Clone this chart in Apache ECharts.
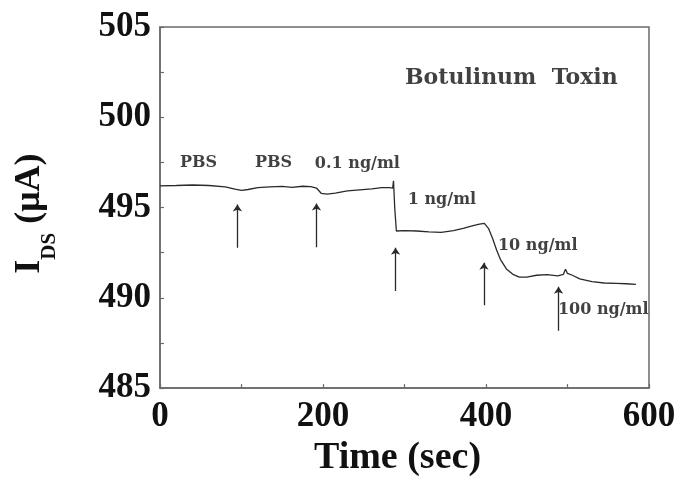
<!DOCTYPE html>
<html>
<head>
<meta charset="utf-8">
<script src="https://cdn.jsdelivr.net/npm/echarts@6/dist/echarts.min.js"></script>
<style>html,body{margin:0;padding:0;background:#fff;}#c{width:679px;height:482px;}</style>
</head>
<body>
<div id="c"></div>
<script>
var time = [0, 20, 40, 60, 80, 92, 100, 108, 120, 135, 150, 162, 175, 185, 192, 198, 205, 215, 230, 245, 260, 272, 282, 285.5, 286.5, 288, 290, 300, 315, 330, 345, 360, 372, 383, 392, 398, 403, 408, 413, 418, 425, 433, 441, 450, 462, 475, 488, 495, 497.5, 500, 506, 515, 530, 545, 560, 572, 584];
var current = [496.2, 496.22, 496.25, 496.22, 496.15, 496.02, 495.95, 496.0, 496.1, 496.15, 496.17, 496.12, 496.18, 496.16, 496.08, 495.78, 495.74, 495.8, 495.92, 495.98, 496.04, 496.1, 496.1, 496.08, 496.48, 495.0, 493.7, 493.72, 493.7, 493.65, 493.63, 493.72, 493.85, 493.98, 494.08, 494.12, 493.85, 493.3, 492.65, 492.1, 491.6, 491.3, 491.15, 491.15, 491.25, 491.28, 491.22, 491.3, 491.58, 491.35, 491.25, 491.05, 490.9, 490.82, 490.8, 490.78, 490.75];

var arrowTime = [95, 192, 289, 397.5, 489];
var arrowTail = [492.77, 492.8, 490.38, 489.59, 488.17];
var arrowTip = [495.17, 495.22, 492.77, 491.94, 490.62];

var annoTime = [24.5, 116.5, 190, 304, 414.7, 488.3];
var annoValue = [497.49, 497.49, 497.4, 495.4, 492.86, 489.36];
var annoText = ['PBS', 'PBS', '0.1 ng/ml', '1 ng/ml', '10 ng/ml', '100 ng/ml'];

var titleText = 'Botulinum  Toxin';
var titleTime = 300.6, titleValue = 502.15;

var xTicks = [0, 600, 200];
var yTicks = [485, 505, 5];

var chart = echarts.init(document.getElementById('c'), null, {renderer: 'canvas'});
var serif = '"Liberation Serif", "Times New Roman", serif';
var slab = '"DejaVu Serif", serif';

var trace = time.map(function (t, i) { return [t, current[i]]; });
var arrows = arrowTime.map(function (t, i) { return {coords: [[t, arrowTail[i]], [t, arrowTip[i]]]}; });
var annos = annoTime.map(function (t, i) { return {value: [t, annoValue[i]], name: annoText[i]}; });

chart.setOption({
  animation: false,
  backgroundColor: '#fff',
  grid: {left: 160, right: 30, top: 27, bottom: 93, show: true, borderColor: '#6a6a6a', borderWidth: 1.5, backgroundColor: 'transparent'},
  xAxis: {
    type: 'value', min: xTicks[0], max: xTicks[1], interval: xTicks[2],
    axisLine: {show: true, lineStyle: {color: '#6a6a6a', width: 1.5}},
    axisTick: {show: true, inside: true, length: 4, lineStyle: {color: '#6a6a6a', width: 1.2}},
    minorTick: {show: true, splitNumber: 2, length: 4, lineStyle: {color: '#6a6a6a', width: 1.2}},
    splitLine: {show: false},
    axisLabel: {color: '#111', fontFamily: serif, fontWeight: 'bold', fontSize: 35, margin: 11},
    name: 'Time (sec)', nameLocation: 'middle', nameGap: 47,
    nameTextStyle: {color: '#111', fontFamily: serif, fontWeight: 'bold', fontSize: 38, padding: [0, 14, 0, 0]}
  },
  yAxis: {
    type: 'value', min: yTicks[0], max: yTicks[1], interval: yTicks[2],
    axisLine: {show: true, lineStyle: {color: '#6a6a6a', width: 1.5}},
    axisTick: {show: true, inside: true, length: 4, lineStyle: {color: '#6a6a6a', width: 1.2}},
    minorTick: {show: true, splitNumber: 2, length: 4, lineStyle: {color: '#6a6a6a', width: 1.2}},
    splitLine: {show: false},
    axisLabel: {color: '#111', fontFamily: serif, fontWeight: 'bold', fontSize: 35, margin: 9},
    name: '{a|I}{b|DS}{a| (μA)}', nameLocation: 'middle', nameGap: 100, nameRotate: 90,
    nameTextStyle: {
      color: '#111', fontFamily: serif, fontWeight: 'bold', fontSize: 36,
      padding: [0, 12, 0, 0],
      rich: {
        a: {color: '#111', fontFamily: serif, fontWeight: 'bold', fontSize: 36},
        b: {color: '#111', fontFamily: serif, fontWeight: 'bold', fontSize: 21, padding: [40, 0, 0, 0]}
      }
    }
  },
  series: [
    {
      type: 'line', data: trace, showSymbol: false, symbol: 'none', smooth: false,
      lineStyle: {color: '#2a2a2a', width: 1.3}, silent: true
    },
    {
      type: 'lines', coordinateSystem: 'cartesian2d', data: arrows,
      symbol: ['none', 'arrow'], symbolSize: [0, 7],
      lineStyle: {color: '#2a2a2a', width: 1.3, opacity: 1}, silent: true
    },
    {
      type: 'scatter', data: annos, symbolSize: 0, silent: true,
      label: {show: true, position: 'right', distance: 0, formatter: '{b}', color: '#111',
        fontFamily: slab, fontWeight: 'bold', fontSize: 16}
    },
    {
      type: 'scatter', data: [{value: [titleTime, titleValue], name: titleText}], symbolSize: 0, silent: true,
      label: {show: true, position: 'right', distance: 0, formatter: '{b}', color: '#111',
        fontFamily: slab, fontWeight: 'bold', fontSize: 22}
    }
  ]
});
</script>
</body>
</html>
